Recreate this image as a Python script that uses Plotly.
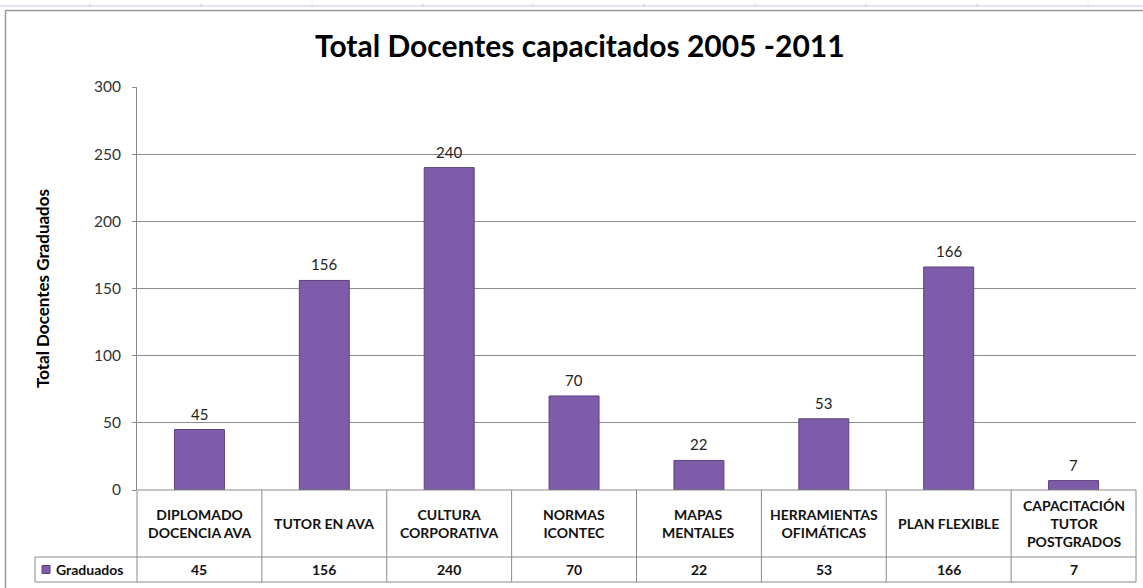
import plotly.graph_objects as go

categories = ["DIPLOMADO<br>DOCENCIA AVA", "TUTOR EN AVA", "CULTURA<br>CORPORATIVA",
              "NORMAS<br>ICONTEC", "MAPAS<br>MENTALES", "HERRAMIENTAS<br>OFIMÁTICAS",
              "PLAN FLEXIBLE", "CAPACITACIÓN<br>TUTOR<br>POSTGRADOS"]
values = [45, 156, 240, 70, 22, 53, 166, 7]
series_name = "Graduados"
title = "Total Docentes capacitados 2005 -2011"
y_title = "Total Docentes Graduados"
y_ticks = [0, 50, 100, 150, 200, 250, 300]

W, H = 1143, 588
L, R, T, B = 137, 7, 87, 98
PW = W - L - R
PH = H - T - B


def px_x(px):
    return (px - L) / PW


def px_y(py):
    return 1 - (py - T) / PH


FONT = "Lato, 'Open Sans', sans-serif"
BAR = "#7F5CA9"
GRID = "#8C8C8C"

n = len(categories)
xs = list(range(n))

fig = go.Figure()
fig.add_trace(go.Bar(
    x=xs, y=values, name=series_name,
    marker=dict(color=BAR, line=dict(color="#5B407D", width=1)),
    width=0.4, showlegend=False, hoverinfo="y",
))

annotations = []
# value labels above bars
for i, v in enumerate(values):
    annotations.append(dict(x=i, y=v, xref="x", yref="y", text=str(v), showarrow=False,
                            yanchor="bottom", yshift=5,
                            font=dict(family=FONT, size=15, color="#222222")))

# data table: category row and value row
row1_top, row1_bot, row2_bot = 490, 557, 582
for i, c in enumerate(categories):
    annotations.append(dict(x=i, y=px_y((row1_top + row1_bot) / 2), xref="x", yref="paper",
                            text="<b>" + c + "</b>", showarrow=False, yanchor="middle",
                            font=dict(family=FONT, size=14, color="#111111")))
    annotations.append(dict(x=i, y=px_y((row1_bot + row2_bot) / 2), xref="x", yref="paper",
                            text="<b>" + str(values[i]) + "</b>", showarrow=False,
                            yanchor="middle",
                            font=dict(family=FONT, size=14, color="#111111")))
annotations.append(dict(x=px_x(54), y=px_y((row1_bot + row2_bot) / 2), xref="paper", yref="paper",
                        text="<b>" + series_name + "</b>", showarrow=False, xanchor="left",
                        yanchor="middle", font=dict(family=FONT, size=14, color="#111111")))

# title and y axis title
annotations.append(dict(x=px_x(580), y=px_y(45), xref="paper", yref="paper",
                        text="<b>" + title + "</b>", showarrow=False, xanchor="center",
                        yanchor="middle", font=dict(family=FONT, size=30, color="#000000")))
annotations.append(dict(x=px_x(42), y=px_y(289), xref="paper", yref="paper",
                        text="<b>" + y_title + "</b>", showarrow=False, textangle=-90,
                        xanchor="center", yanchor="middle",
                        font=dict(family=FONT, size=17, color="#000000")))

shapes = []
line_c = "#8A8A8A"
# horizontal table lines
shapes.append(dict(type="line", xref="paper", yref="paper", x0=0, x1=1,
                   y0=px_y(row1_top), y1=px_y(row1_top), line=dict(color=line_c, width=1)))
shapes.append(dict(type="line", xref="paper", yref="paper", x0=px_x(35), x1=1,
                   y0=px_y(row1_bot), y1=px_y(row1_bot), line=dict(color=line_c, width=1)))
shapes.append(dict(type="line", xref="paper", yref="paper", x0=px_x(35), x1=1,
                   y0=px_y(row2_bot), y1=px_y(row2_bot), line=dict(color=line_c, width=1)))
# vertical table lines
for k in range(n + 1):
    xp = k / n
    shapes.append(dict(type="line", xref="paper", yref="paper", x0=xp, x1=xp,
                       y0=px_y(row1_top), y1=px_y(row2_bot), line=dict(color=line_c, width=1)))
shapes.append(dict(type="line", xref="paper", yref="paper", x0=px_x(35), x1=px_x(35),
                   y0=px_y(row1_bot), y1=px_y(row2_bot), line=dict(color=line_c, width=1)))
# legend key square
shapes.append(dict(type="rect", xref="paper", yref="paper", x0=px_x(42), x1=px_x(50),
                   y0=px_y(573.5), y1=px_y(565.5), fillcolor=BAR, line=dict(color="#5B407D", width=1)))
# outer chart border
shapes.append(dict(type="rect", xref="paper", yref="paper", x0=px_x(5.5), x1=px_x(1150),
                   y0=px_y(600), y1=px_y(10.5), line=dict(color="#9A9A9A", width=1.5),
                   fillcolor="rgba(0,0,0,0)", layer="below"))
# spreadsheet strip above chart
shapes.append(dict(type="line", xref="paper", yref="paper", x0=px_x(0), x1=px_x(1143),
                   y0=px_y(6), y1=px_y(6), line=dict(color="#D5DBE8", width=1.5), layer="below"))
for sx in [90, 201, 312, 423, 533, 644, 755, 866, 977, 1088]:
    shapes.append(dict(type="line", xref="paper", yref="paper", x0=px_x(sx), x1=px_x(sx),
                       y0=px_y(4), y1=px_y(7), line=dict(color="#C8CED8", width=1), layer="below"))

fig.update_layout(
    width=W, height=H,
    margin=dict(l=L, r=R, t=T, b=B),
    paper_bgcolor="white", plot_bgcolor="white",
    font=dict(family=FONT, color="#333333"),
    xaxis=dict(range=[-0.5, n - 0.5], showticklabels=False, showgrid=False,
               zeroline=False, showline=False, fixedrange=True),
    yaxis=dict(range=[0, 300], tickvals=y_ticks, showgrid=True, gridcolor=GRID, gridwidth=1,
               zeroline=False, showline=True, linecolor=line_c, linewidth=1,
               ticks="outside", ticklen=4, tickcolor=line_c,
               tickfont=dict(family=FONT, size=15.5, color="#333333"), ticklabelstandoff=8),
    annotations=annotations,
    shapes=shapes,
    bargap=0.6,
)

fig.write_html("out.html", config={"displayModeBar": False},
               post_script="document.body.style.margin='0';document.body.style.overflow='hidden';")
